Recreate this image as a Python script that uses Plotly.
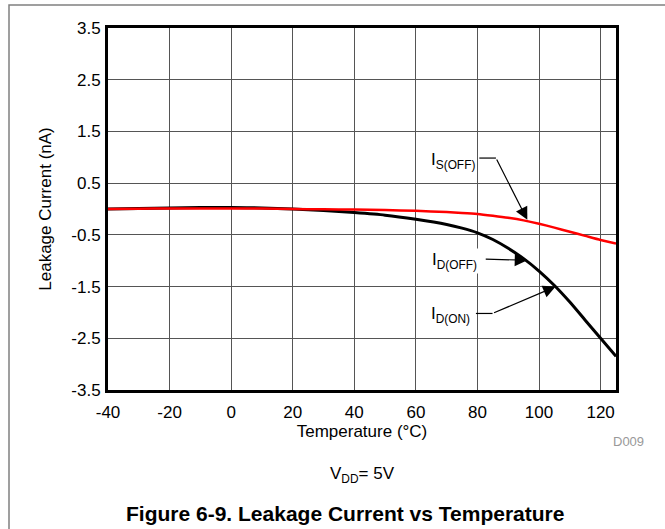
import plotly.graph_objects as go

# ---- data ----
temperature = [-40, -30, -20, -10, 0, 10, 20, 30, 40, 50, 60, 70, 75, 80, 85, 90, 95, 100, 105, 110, 115, 120, 125]
i_s_off = [0.0, 0.005, 0.01, 0.01, 0.01, 0.01, 0.0, -0.005, -0.01, -0.02, -0.035, -0.06, -0.075, -0.095, -0.13,
           -0.17, -0.22, -0.285, -0.36, -0.44, -0.52, -0.60, -0.67]
i_d = [0.0, 0.01, 0.02, 0.03, 0.03, 0.02, 0.0, -0.03, -0.07, -0.12, -0.20, -0.30, -0.37, -0.46, -0.59,
       -0.76, -0.96, -1.20, -1.48, -1.80, -2.15, -2.50, -2.85]
x_ticks = [-40, -20, 0, 20, 40, 60, 80, 100, 120]
y_ticks = [3.5, 2.5, 1.5, 0.5, -0.5, -1.5, -2.5, -3.5]

FONT = "Liberation Sans, Arial, sans-serif"
W, H = 665, 529


def px_x(p):
    return p / W


def px_y(p):
    return 1 - p / H


fig = go.Figure()

# page frame (top and left rules), drawn on a full-page helper subplot
fig.add_trace(go.Scatter(x=[W, 9, 9], y=[5, 5, H], mode="lines", xaxis="x2", yaxis="y2",
                         line=dict(color="#808080", width=1.5), hoverinfo="skip", showlegend=False))

fig.add_trace(go.Scatter(x=temperature, y=i_d, mode="lines", name="I_D",
                         line=dict(color="black", width=3, shape="spline", smoothing=0.6),
                         showlegend=False))
fig.add_trace(go.Scatter(x=temperature, y=i_s_off, mode="lines", name="I_S(OFF)",
                         line=dict(color="#ff0000", width=2.5, shape="spline", smoothing=0.6),
                         showlegend=False))

# labels and leaders
labels = [
    dict(text="I<sub>S(OFF)</sub>", x=80, y=0.93, bg=None),
    dict(text="I<sub>D(OFF)</sub>", x=80.6, y=-1.0, bg="white"),
    dict(text="I<sub>D(ON)</sub>", x=78.3, y=-2.05, bg=None),
]
for lb in labels:
    fig.add_annotation(x=lb["x"], y=lb["y"], xref="x", yref="y", text=lb["text"], showarrow=False,
                       xanchor="right", yanchor="middle", font=dict(family=FONT, size=17, color="black"),
                       bgcolor=lb["bg"] if lb["bg"] else "rgba(0,0,0,0)", borderpad=1)

# leader lines: (start, corner, tip)
leaders = [
    ((80.6, 0.985), (86.0, 0.985), (96.2, -0.21)),
    ((82.2, -0.97), (82.2, -0.97), (96.2, -0.99)),
    ((79.5, -2.02), (84.9, -2.02), (105.4, -1.50)),
]
for (s, c, t) in leaders:
    if s != c:
        fig.add_shape(type="line", xref="x", yref="y", x0=s[0], y0=s[1], x1=c[0], y1=c[1],
                      line=dict(color="black", width=1.2))
    fig.add_annotation(x=t[0], y=t[1], xref="x", yref="y", ax=c[0], ay=c[1], axref="x", ayref="y",
                       text="", showarrow=True, arrowhead=2, arrowsize=2.1, arrowwidth=1.2,
                       arrowcolor="black", standoff=0)

# texts under the chart
fig.add_annotation(xref="paper", yref="paper", x=px_x(646), y=px_y(441.7), text="D009", showarrow=False,
                   xanchor="right", yanchor="middle", font=dict(family=FONT, size=13, color="#999999"))
fig.add_annotation(xref="paper", yref="paper", x=px_x(362.5), y=px_y(475), text="V<sub>DD</sub>= 5V",
                   showarrow=False, xanchor="center", yanchor="middle",
                   font=dict(family=FONT, size=17, color="black"))
fig.add_annotation(xref="paper", yref="paper", x=px_x(345), y=px_y(513),
                   text="<b>Figure 6-9. Leakage Current vs Temperature</b>", showarrow=False,
                   xanchor="center", yanchor="middle", font=dict(family=FONT, size=21, color="black"))

fig.update_layout(
    xaxis=dict(domain=[px_x(108), px_x(616)],
               range=[-40, 125], tickvals=x_ticks, ticktext=[str(v) for v in x_ticks],
               showgrid=True, gridcolor="#555555", gridwidth=1,
               showline=True, linecolor="black", linewidth=3, mirror=True,
               ticks="outside", ticklen=5, tickcolor="rgba(0,0,0,0)",
               zeroline=False, tickfont=dict(family=FONT, size=17, color="black"),
               title=dict(text="Temperature (°C)", standoff=3,
                          font=dict(family=FONT, size=17, color="black"))),
    yaxis=dict(domain=[px_y(390), px_y(28)],
               range=[-3.5, 3.5], tickvals=y_ticks, ticktext=[f"{v:.1f}" for v in y_ticks],
               showgrid=True, gridcolor="#555555", gridwidth=1,
               showline=True, linecolor="black", linewidth=3, mirror=True,
               ticks="outside", ticklen=1, tickcolor="rgba(0,0,0,0)",
               zeroline=False, tickfont=dict(family=FONT, size=17, color="black"),
               title=dict(text="Leakage Current (nA)", standoff=16,
                          font=dict(family=FONT, size=17, color="black"))),
    xaxis2=dict(domain=[0, 1], range=[0, W], visible=False, fixedrange=True, anchor="y2"),
    yaxis2=dict(domain=[0, 1], range=[H, 0], visible=False, fixedrange=True, anchor="x2"),
    width=W, height=H, margin=dict(l=0, r=0, t=0, b=0, autoexpand=False),
    plot_bgcolor="rgba(0,0,0,0)", paper_bgcolor="white", showlegend=False,
    font=dict(family=FONT, size=17, color="black"),
)

fig.write_html("out.html", config={"displayModeBar": False},
               post_script="document.body.style.margin='0px';")
